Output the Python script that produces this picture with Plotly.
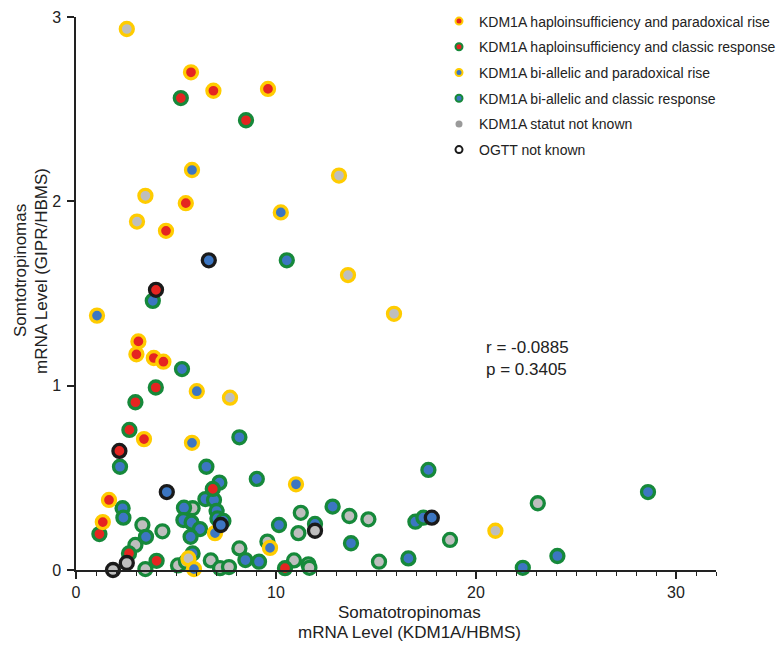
import plotly.graph_objects as go

# ---- data (KDM1A mRNA level, GIPR mRNA level) ----
# yellow ring = paradoxical rise, green ring = classic response, black ring = OGTT not known
# red fill = haploinsufficiency, blue fill = bi-allelic, grey fill = status not known
hp_par_x = [5.75, 6.87, 9.6, 5.49, 4.5, 3.12, 3.02, 3.89, 4.37, 3.4, 1.65, 1.34]
hp_par_y = [2.70, 2.60, 2.61, 1.99, 1.84, 1.24, 1.17, 1.15, 1.13, 0.71, 0.38, 0.26]

hp_cls_x = [5.24, 8.5, 3.99, 2.97, 2.67, 6.84, 1.17, 4.03, 10.45, 2.65]
hp_cls_y = [2.56, 2.44, 0.99, 0.91, 0.76, 0.44, 0.195, 0.05, 0.01, 0.09]

bi_par_x = [5.8, 10.24, 1.05, 6.04, 5.8, 11.0, 6.95, 9.7, 5.9]
bi_par_y = [2.17, 1.94, 1.38, 0.97, 0.69, 0.465, 0.2, 0.12, 0.005]

bi_cls_x = [10.54, 3.84, 5.3, 8.17, 2.2, 6.52, 9.04, 7.17, 6.47, 6.9, 2.33, 2.37,
            5.4, 5.37, 5.78, 6.2, 7.03, 7.07, 7.37, 3.5, 5.73, 5.83, 8.47, 9.15,
            12.83, 10.15, 13.75, 17.62, 16.62, 16.97, 17.37, 22.34, 24.07, 28.6, 11.95]
bi_cls_y = [1.68, 1.46, 1.09, 0.72, 0.56, 0.56, 0.494, 0.474, 0.385, 0.38, 0.335, 0.284,
            0.338, 0.271, 0.257, 0.222, 0.32, 0.28, 0.266, 0.18, 0.18, 0.09, 0.054, 0.045,
            0.344, 0.244, 0.145, 0.543, 0.063, 0.262, 0.284, 0.012, 0.076, 0.423, 0.25]

nk_cls_x = [5.83, 3.32, 4.32, 2.97, 3.47, 5.1, 5.5, 6.74, 7.2, 7.65, 8.17, 11.24,
            11.12, 9.57, 10.9, 11.62, 11.67, 13.67, 14.62, 15.15, 18.7, 23.09]
nk_cls_y = [0.335, 0.244, 0.21, 0.136, 0.005, 0.025, 0.045, 0.052, 0.01, 0.016, 0.117, 0.31,
            0.2, 0.154, 0.052, 0.031, 0.012, 0.293, 0.275, 0.045, 0.163, 0.362]

nk_par_x = [2.54, 3.47, 3.05, 7.7, 5.62, 20.97, 13.15, 13.6, 15.9]
nk_par_y = [2.935, 2.03, 1.89, 0.935, 0.063, 0.213, 2.14, 1.60, 1.39]

hp_nogtt_x = [4.0, 2.17]
hp_nogtt_y = [1.52, 0.646]

bi_nogtt_x = [6.64, 4.54, 7.24, 17.79]
bi_nogtt_y = [1.68, 0.423, 0.244, 0.284]

nk_nogtt_x = [1.85, 2.54, 11.95]
nk_nogtt_y = [0.0, 0.038, 0.213]

legend_labels = [
    "KDM1A haploinsufficiency and paradoxical rise",
    "KDM1A haploinsufficiency and classic response",
    "KDM1A bi-allelic and paradoxical rise",
    "KDM1A bi-allelic and classic response",
    "KDM1A statut not known",
    "OGTT not known",
]
stat_text = "r = -0.0885<br>p = 0.3405"

# ---- styles ----
YEL = "#FFCC00"
GRN = "#16893A"
BLK = "#1A1A1A"
RED = "#E52421"
BLU = "#3C76C2"
GRY = "#BEBEBE"

fig = go.Figure()

def add_pts(xs, ys, fill, ring):
    fig.add_trace(go.Scatter(
        x=xs, y=ys, mode="markers", showlegend=False, cliponaxis=False,
        hoverinfo="x+y",
        marker=dict(size=13, color=fill, line=dict(color=ring, width=3.3)),
    ))

add_pts(nk_cls_x, nk_cls_y, GRY, GRN)
add_pts(bi_cls_x, bi_cls_y, BLU, GRN)
add_pts(hp_cls_x, hp_cls_y, RED, GRN)
add_pts(nk_par_x, nk_par_y, GRY, YEL)
add_pts(bi_par_x, bi_par_y, BLU, YEL)
add_pts(hp_par_x, hp_par_y, RED, YEL)
add_pts(hp_nogtt_x, hp_nogtt_y, RED, BLK)
add_pts(bi_nogtt_x, bi_nogtt_y, BLU, BLK)
add_pts(nk_nogtt_x, nk_nogtt_y, GRY, BLK)

leg_styles = [(RED, YEL, 2), (RED, GRN, 2), (BLU, YEL, 2), (BLU, GRN, 2),
              ("#9A9A9A", "#9A9A9A", 0), ("white", BLK, 2)]
for i, (lab, (f, r, w)) in enumerate(zip(legend_labels, leg_styles)):
    fig.add_trace(go.Scatter(
        x=[None], y=[None], mode="markers", name=lab, legendgroup=str(i),
        marker=dict(size=7, color=f, line=dict(color=r, width=w)),
    ))

axis_font = dict(family="Liberation Sans, Arial, sans-serif", size=16, color="#222")
fig.update_layout(
    width=777, height=646,
    margin=dict(l=76, r=61, t=17, b=76, autoexpand=False),
    paper_bgcolor="white", plot_bgcolor="white",
    font=dict(family="Liberation Sans, Arial, sans-serif", color="#222"),
    showlegend=True,
    legend=dict(xref="container", yref="container", x=439 / 777, y=1 - 5.5 / 646,
                xanchor="left", yanchor="top",
                font=dict(size=14, color="#222"), tracegroupgap=4.5,
                itemwidth=30, bgcolor="rgba(0,0,0,0)"),
    xaxis=dict(range=[0, 32], showline=True, linecolor="#222", linewidth=1.5,
               ticks="outside", ticklen=7, tickwidth=1.5, tickcolor="#222",
               tickvals=[0, 10, 20, 30], tickfont=axis_font, ticklabelstandoff=0,
               minor=dict(dtick=1, ticks="outside", ticklen=4, tickwidth=1.2, tickcolor="#222"),
               showgrid=False, zeroline=False, automargin=False),
    yaxis=dict(range=[0, 3], showline=True, linecolor="#222", linewidth=1.5,
               ticks="outside", ticklen=7, tickwidth=1.5, tickcolor="#222",
               tickvals=[0, 1, 2, 3], tickfont=axis_font, ticklabelstandoff=3,
               showgrid=False, zeroline=False, automargin=False),
)

tf = dict(family="Liberation Sans, Arial, sans-serif", size=17, color="#222")
fig.add_annotation(text="Somatotropinomas", xref="paper", yref="paper",
                   x=(409 - 76) / 640, y=-(612 - 570) / 553, showarrow=False, font=tf,
                   xanchor="center", yanchor="middle")
fig.add_annotation(text="mRNA Level (KDM1A/HBMS)", xref="paper", yref="paper",
                   x=(409 - 76) / 640, y=-(632 - 570) / 553, showarrow=False, font=tf,
                   xanchor="center", yanchor="middle")
fig.add_annotation(text="Somtotropinomas", xref="paper", yref="paper",
                   x=-(76 - 20) / 640, y=(570 - 271) / 553, showarrow=False, font=tf,
                   textangle=-90, xanchor="center", yanchor="middle")
fig.add_annotation(text="mRNA Level (GIPR/HBMS)", xref="paper", yref="paper",
                   x=-(76 - 41) / 640, y=(570 - 271) / 553, showarrow=False, font=tf,
                   textangle=-90, xanchor="center", yanchor="middle")
fig.add_annotation(text=stat_text, x=20.4, y=1.15, xref="x", yref="y",
                   showarrow=False, align="left", xanchor="left", yanchor="middle",
                   font=dict(family="Liberation Sans, Arial, sans-serif", size=17, color="#222"))

fig.write_html("out.html", post_script="document.body.style.margin='0';",
               config={"displayModeBar": False})
